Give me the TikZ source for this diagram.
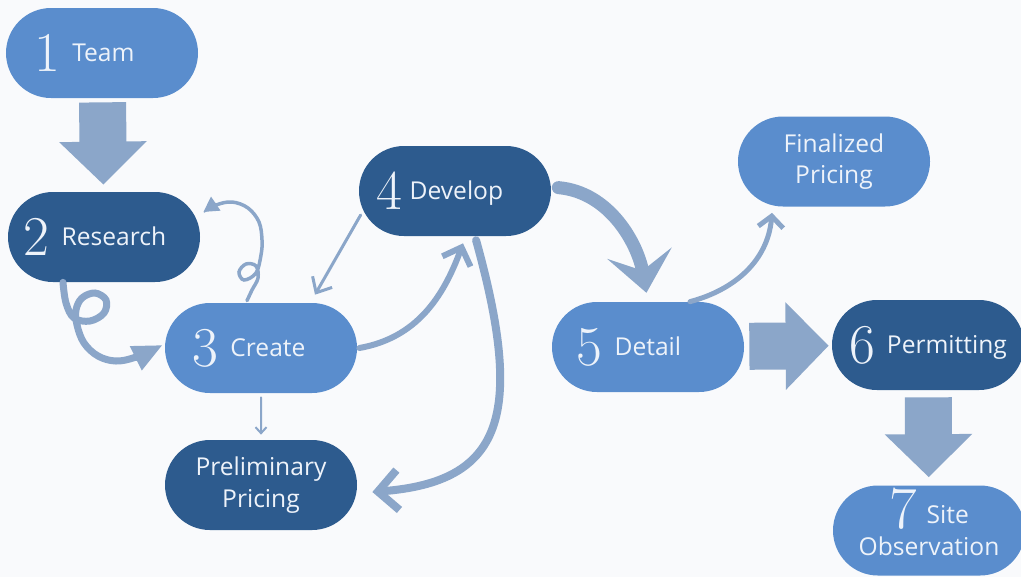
\documentclass[tikz,border=0pt]{standalone}
\usepackage{fontspec}
\newfontfamily\labelfont{Open Sans}
\usetikzlibrary{shapes.misc,arrows.meta}

\definecolor{lightblue}{HTML}{5A8DCD}
\definecolor{darkblue}{HTML}{2D5B8E}
\definecolor{arrowblue}{HTML}{8BA6C9}
\definecolor{labelwhite}{HTML}{EEF3FA}
\definecolor{paper}{HTML}{F9FAFC}

% big serif number in front of a stage name
\newcommand{\stagenum}[1]{\raisebox{-0.2cm}{\rmfamily\fontsize{32}{32}\selectfont #1}\hspace{0.24cm}}

\begin{document}
\begin{tikzpicture}
  \tikzset{
    stage node/.style={rounded rectangle, minimum width=3.84cm, minimum height=1.8cm, inner sep=0pt,
      align=center, text=labelwhite, font=\labelfont\fontsize{14}{18}\selectfont},
    light node/.style={stage node, fill=lightblue},
    dark node/.style={stage node, fill=darkblue},
    block arrow/.style={draw=arrowblue, line width=0.94cm, -{Triangle[length=0.86cm,width=1.7cm]}},
    flow arrow/.style={draw=arrowblue, line cap=round}
  }
  \useasboundingbox (0,0) rectangle (20.42,-11.54);
  \fill[paper] (0,0) rectangle (20.42,-11.54);

  \node[light node] (team) at (2.04,-1.06) {\stagenum{1}Team\hspace{0.7cm}};
  \node[dark node] (research) at (2.08,-4.74) {\stagenum{2}Research\hspace{0.36cm}};
  \node[light node] (create) at (5.22,-6.96) {\stagenum{3}Create\hspace{0.48cm}};
  \node[dark node] (prelim) at (5.22,-9.70) {Preliminary\\Pricing};
  \node[dark node] (develop) at (9.10,-3.82) {\stagenum{4}\hspace{-0.1cm}Develop\hspace{0.6cm}};
  \node[light node] (finalized) at (16.68,-3.23) {Finalized\\Pricing};
  \node[light node] (detail) at (12.96,-6.94) {\stagenum{5}Detail\hspace{0.76cm}};
  \node[dark node] (permit) at (18.56,-6.90) {\stagenum{6}Permitting};
  \node[light node] (site) at (18.58,-10.61)
    {{\rmfamily\fontsize{34}{34}\selectfont\smash{\raisebox{-0.1cm}{7}}}\hspace{0.2cm}Site\\Observation};

  \draw[block arrow, shorten <=0.08cm, shorten >=0.14cm] (team) -- (research);
  \draw[block arrow, shorten <=0.1cm, shorten >=0.06cm] (detail) -- (permit);
  \draw[block arrow, shorten <=0.14cm, shorten >=0.16cm] (permit) -- (site);

  \draw[flow arrow, line width=0.14cm, -{Triangle[length=0.6cm,width=0.5cm]}]
    plot[smooth, tension=0.6] coordinates {([xshift=-0.82cm]research.south) (1.32,-6.06) (1.48,-6.36)
      (1.80,-6.42) (2.08,-6.26) (2.12,-6.00) (1.90,-5.86) (1.64,-5.96) (1.52,-6.20) (1.54,-6.50)
      (1.68,-6.86) (1.96,-7.12) (2.32,-7.22) (2.72,-7.14) ([shift={(-0.04,0.06)}]create.west)};
  \draw[flow arrow, line width=0.07cm, -{Triangle[length=0.3cm,width=0.32cm]}]
    plot[smooth, tension=0.6] coordinates {([shift={(-0.28,0.04)}]create.north) (5.04,-5.80) (5.16,-5.56)
      (5.12,-5.32) (4.92,-5.28) (4.78,-5.44) (4.88,-5.60) (5.12,-5.46) (5.22,-5.10) (5.24,-4.80)
      (5.18,-4.44) (4.96,-4.16) (4.64,-4.04) (4.32,-4.10) ([shift={(0.06,0.5)}]research.east)};

  \draw[flow arrow, line width=0.04cm, -{Straight Barb[length=0.12cm,width=0.22cm]},
    shorten <=0.08cm, shorten >=0.1cm] (create) -- (prelim);
  \draw[flow arrow, line width=0.12cm, -{Straight Barb[length=0.3cm,width=0.6cm]}]
    ([xshift=0.04cm]create.east) to[out=10,in=-110] ([shift={(0.16,-0.14)}]develop.south);
  \draw[flow arrow, line width=0.06cm, -{Straight Barb[length=0.25cm,width=0.45cm]}]
    ([shift={(0.04,-0.48)}]develop.west) -- ([shift={(1.08,0.16)}]create.north);
  \draw[flow arrow, line width=0.16cm, -{Straight Barb[length=0.4cm,width=0.8cm]}, shorten <=0.08cm]
    ([xshift=0.4cm]develop.south) .. controls +(1.0,-3.6) and +(2.6,0.2) .. ([shift={(0.3,-0.14)}]prelim.east);

  \draw[flow arrow, line width=0.26cm, -{Stealth[length=0.8cm,width=1.3cm,inset=0.35cm]},
    shorten <=0.14cm, shorten >=0.18cm] ([yshift=0.08cm]develop.east) to[out=-5,in=100] (detail.north);
  \draw[flow arrow, line width=0.1cm, -{Straight Barb[length=0.22cm,width=0.5cm]}]
    ([xshift=0.84cm]detail.north) to[out=15,in=-95] ([shift={(-1.24,-0.12)}]finalized.south);
\end{tikzpicture}
\end{document}
